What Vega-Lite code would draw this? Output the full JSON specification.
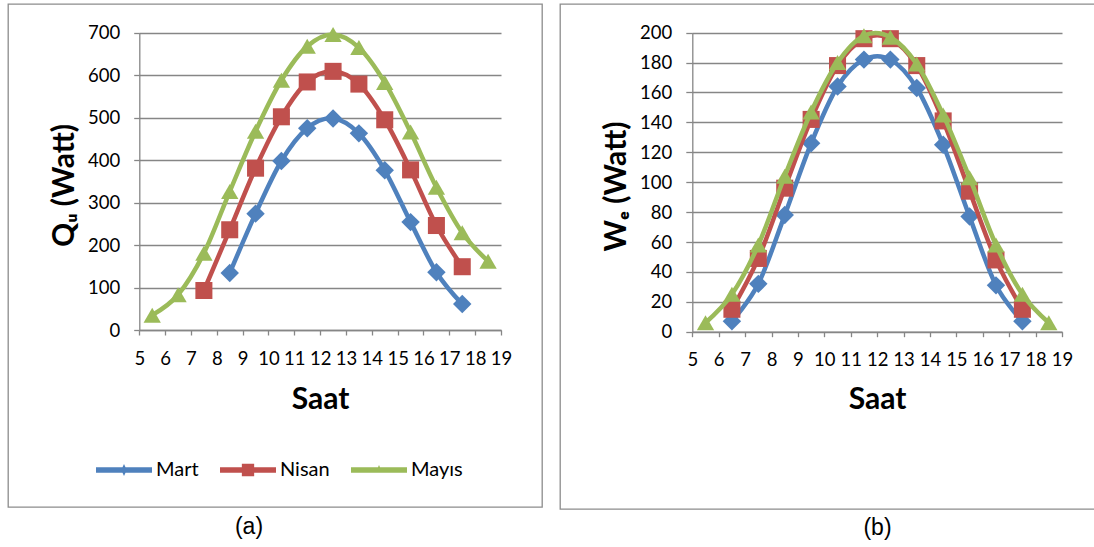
{
  "$schema": "https://vega.github.io/schema/vega-lite/v6.json",
  "background": "white",
  "padding": {"left": 7, "top": 3, "right": 0, "bottom": 0},
  "spacing": 16,
  "config": {
    "font": "Lato",
    "view": {"stroke": "#8c8c8c", "strokeWidth": 1.3},
    "axis": {"labelColor": "black", "titleColor": "black", "domainColor": "#868686", "tickColor": "#868686", "domainWidth": 1.3, "tickWidth": 1.3, "gridColor": "#868686", "gridWidth": 1.3, "labelFont": "Lato", "labelFontSize": 18.5, "titleFont": "Lato", "titleFontSize": 30, "titleFontWeight": "bold", "labelFlush": false, "labelOverlap": false},
    "legend": {"labelColor": "black", "labelFont": "Lato", "labelFontSize": 20}
  },
  "datasets": {
    "qu": [
      {"seri": "Mart", "saat": 8.5, "deger": 134}, {"seri": "Mart", "saat": 9.5, "deger": 274}, {"seri": "Mart", "saat": 10.5, "deger": 398}, {"seri": "Mart", "saat": 11.5, "deger": 475}, {"seri": "Mart", "saat": 12.5, "deger": 498}, {"seri": "Mart", "saat": 13.5, "deger": 463}, {"seri": "Mart", "saat": 14.5, "deger": 376}, {"seri": "Mart", "saat": 15.5, "deger": 254}, {"seri": "Mart", "saat": 16.5, "deger": 136}, {"seri": "Mart", "saat": 17.5, "deger": 61},
      {"seri": "Nisan", "saat": 7.5, "deger": 93}, {"seri": "Nisan", "saat": 8.5, "deger": 236}, {"seri": "Nisan", "saat": 9.5, "deger": 381}, {"seri": "Nisan", "saat": 10.5, "deger": 502}, {"seri": "Nisan", "saat": 11.5, "deger": 584}, {"seri": "Nisan", "saat": 12.5, "deger": 609}, {"seri": "Nisan", "saat": 13.5, "deger": 579}, {"seri": "Nisan", "saat": 14.5, "deger": 495}, {"seri": "Nisan", "saat": 15.5, "deger": 377}, {"seri": "Nisan", "saat": 16.5, "deger": 246}, {"seri": "Nisan", "saat": 17.5, "deger": 149},
      {"seri": "Mayıs", "saat": 5.5, "deger": 35}, {"seri": "Mayıs", "saat": 6.5, "deger": 83}, {"seri": "Mayıs", "saat": 7.5, "deger": 181}, {"seri": "Mayıs", "saat": 8.5, "deger": 326}, {"seri": "Mayıs", "saat": 9.5, "deger": 468}, {"seri": "Mayıs", "saat": 10.5, "deger": 588}, {"seri": "Mayıs", "saat": 11.5, "deger": 668}, {"seri": "Mayıs", "saat": 12.5, "deger": 696}, {"seri": "Mayıs", "saat": 13.5, "deger": 665}, {"seri": "Mayıs", "saat": 14.5, "deger": 583}, {"seri": "Mayıs", "saat": 15.5, "deger": 466}, {"seri": "Mayıs", "saat": 16.5, "deger": 336}, {"seri": "Mayıs", "saat": 17.5, "deger": 229}, {"seri": "Mayıs", "saat": 18.5, "deger": 162}
    ],
    "we": [
      {"seri": "Mart", "saat": 6.5, "deger": 7}, {"seri": "Mart", "saat": 7.5, "deger": 32}, {"seri": "Mart", "saat": 8.5, "deger": 78}, {"seri": "Mart", "saat": 9.5, "deger": 126}, {"seri": "Mart", "saat": 10.5, "deger": 164}, {"seri": "Mart", "saat": 11.5, "deger": 182}, {"seri": "Mart", "saat": 12.5, "deger": 182}, {"seri": "Mart", "saat": 13.5, "deger": 163}, {"seri": "Mart", "saat": 14.5, "deger": 125}, {"seri": "Mart", "saat": 15.5, "deger": 77}, {"seri": "Mart", "saat": 16.5, "deger": 31}, {"seri": "Mart", "saat": 17.5, "deger": 7},
      {"seri": "Nisan", "saat": 6.5, "deger": 15}, {"seri": "Nisan", "saat": 7.5, "deger": 49}, {"seri": "Nisan", "saat": 8.5, "deger": 96}, {"seri": "Nisan", "saat": 9.5, "deger": 142}, {"seri": "Nisan", "saat": 10.5, "deger": 178}, {"seri": "Nisan", "saat": 11.5, "deger": 196}, {"seri": "Nisan", "saat": 12.5, "deger": 196}, {"seri": "Nisan", "saat": 13.5, "deger": 178}, {"seri": "Nisan", "saat": 14.5, "deger": 141}, {"seri": "Nisan", "saat": 15.5, "deger": 94}, {"seri": "Nisan", "saat": 16.5, "deger": 48}, {"seri": "Nisan", "saat": 17.5, "deger": 15},
      {"seri": "Mayıs", "saat": 5.5, "deger": 6}, {"seri": "Mayıs", "saat": 6.5, "deger": 25}, {"seri": "Mayıs", "saat": 7.5, "deger": 58}, {"seri": "Mayıs", "saat": 8.5, "deger": 104}, {"seri": "Mayıs", "saat": 9.5, "deger": 147}, {"seri": "Mayıs", "saat": 10.5, "deger": 180}, {"seri": "Mayıs", "saat": 11.5, "deger": 198}, {"seri": "Mayıs", "saat": 12.5, "deger": 197}, {"seri": "Mayıs", "saat": 13.5, "deger": 179}, {"seri": "Mayıs", "saat": 14.5, "deger": 145}, {"seri": "Mayıs", "saat": 15.5, "deger": 103}, {"seri": "Mayıs", "saat": 16.5, "deger": 58}, {"seri": "Mayıs", "saat": 17.5, "deger": 25}, {"seri": "Mayıs", "saat": 18.5, "deger": 6}
    ]
  },
  "hconcat": [
    {
      "width": 534,
      "height": 503,
      "data": {"name": "qu"},
      "title": {"text": "(a)", "orient": "bottom", "anchor": "middle", "font": "Liberation Sans", "fontSize": 23, "fontWeight": "normal", "color": "black", "dx": -26, "offset": 9},
      "encoding": {
        "x": {"field": "saat", "type": "quantitative", "scale": {"domain": [5, 19], "range": [131.3, 493], "nice": false, "zero": false},
          "axis": {"orient": "bottom", "offset": -177, "values": [5, 6, 7, 8, 9, 10, 11, 12, 13, 14, 15, 16, 17, 18, 19], "grid": false, "tickSize": 5, "labelPadding": 14, "title": "Saat", "titleX": 312, "titleY": 69, "titleBaseline": "middle", "titleAlign": "center"}},
        "y": {"field": "deger", "type": "quantitative", "scale": {"domain": [0, 700], "range": [326, 28.7], "nice": false, "zero": true},
          "axis": {"orient": "left", "offset": -131.3, "values": [0, 100, 200, 300, 400, 500, 600, 700], "grid": true, "tickSize": 5.6, "labelPadding": 14, "title": "Qᵤ (Watt)", "titleX": -75, "titleY": 181, "titleAngle": -90, "titleBaseline": "middle", "titleAlign": "center"}}
      },
      "layer": [
        {"transform": [{"filter": "datum.seri === 'Mart'"}], "mark": {"type": "line", "color": "#4F81BD", "strokeWidth": 4.5, "interpolate": "cardinal"}},
        {"transform": [{"filter": "datum.seri === 'Mart'"}], "mark": {"type": "point", "shape": "diamond", "filled": true, "opacity": 1, "color": "#4F81BD", "size": 340}},
        {"transform": [{"filter": "datum.seri === 'Nisan'"}], "mark": {"type": "line", "color": "#C0504D", "strokeWidth": 4.5, "interpolate": "cardinal"}},
        {"transform": [{"filter": "datum.seri === 'Nisan'"}], "mark": {"type": "point", "shape": "square", "filled": true, "opacity": 1, "color": "#C0504D", "size": 290}},
        {"transform": [{"filter": "datum.seri === 'Mayıs'"}], "mark": {"type": "line", "color": "#9BBB59", "strokeWidth": 4.5, "interpolate": "cardinal"}},
        {"transform": [{"filter": "datum.seri === 'Mayıs'"}], "mark": {"type": "point", "shape": "triangle-up", "filled": true, "opacity": 1, "color": "#9BBB59", "size": 300}},
        {"transform": [{"filter": "false"}], "mark": {"type": "point", "filled": true, "opacity": 1},
          "encoding": {
            "color": {"field": "seri", "type": "nominal", "scale": {"domain": ["Mart", "Nisan", "Mayıs"], "range": ["#4F81BD", "#C0504D", "#9BBB59"]},
              "legend": {"orient": "none", "legendX": 88, "legendY": 438, "direction": "horizontal", "columns": 3, "title": null, "symbolSize": 3136, "labelOffset": 4, "columnPadding": 21, "symbolStrokeWidth": 0, "symbolOpacity": 1}},
            "shape": {"field": "seri", "type": "nominal", "scale": {"domain": ["Mart", "Nisan", "Mayıs"], "range": ["M-1,-0.1L1,-0.1L1,0.1L-1,0.1Z M0,-0.21L0.1,0L0,0.21L-0.1,0Z", "M-1,-0.1L1,-0.1L1,0.1L-1,0.1Z M-0.22,-0.22L0.22,-0.22L0.22,0.22L-0.22,0.22Z", "M-1,-0.1L1,-0.1L1,0.1L-1,0.1Z M0,-0.18L0.12,0.1L-0.12,0.1Z"]},
              "legend": {"orient": "none", "legendX": 88, "legendY": 438, "direction": "horizontal", "columns": 3, "title": null, "symbolSize": 3136, "labelOffset": 4, "columnPadding": 21, "symbolStrokeWidth": 0, "symbolOpacity": 1}}
          }
        }
      ]
    },
    {
      "width": 541,
      "height": 505,
      "data": {"name": "we"},
      "title": {"text": "(b)", "orient": "bottom", "anchor": "middle", "font": "Liberation Sans", "fontSize": 23, "fontWeight": "normal", "color": "black", "dx": 47, "offset": 8},
      "encoding": {
        "x": {"field": "saat", "type": "quantitative", "scale": {"domain": [5, 19], "range": [132.3, 502], "nice": false, "zero": false},
          "axis": {"orient": "bottom", "offset": -177.3, "values": [5, 6, 7, 8, 9, 10, 11, 12, 13, 14, 15, 16, 17, 18, 19], "grid": false, "tickSize": 5, "labelPadding": 14, "title": "Saat", "titleX": 317, "titleY": 68, "titleBaseline": "middle", "titleAlign": "center"}},
        "y": {"field": "deger", "type": "quantitative", "scale": {"domain": [0, 200], "range": [327.7, 28.7], "nice": false, "zero": true},
          "axis": {"orient": "left", "offset": -132.3, "values": [0, 20, 40, 60, 80, 100, 120, 140, 160, 180, 200], "grid": true, "tickSize": 6.5, "labelPadding": 14, "title": "Wₑ (Watt)", "titleX": -76, "titleY": 182, "titleAngle": -90, "titleBaseline": "middle", "titleAlign": "center"}}
      },
      "layer": [
        {"transform": [{"filter": "datum.seri === 'Mart'"}], "mark": {"type": "line", "color": "#4F81BD", "strokeWidth": 4.5, "interpolate": "cardinal"}},
        {"transform": [{"filter": "datum.seri === 'Mart'"}], "mark": {"type": "point", "shape": "diamond", "filled": true, "opacity": 1, "color": "#4F81BD", "size": 340}},
        {"transform": [{"filter": "datum.seri === 'Nisan'"}], "mark": {"type": "line", "color": "#C0504D", "strokeWidth": 4.5, "interpolate": "cardinal"}},
        {"transform": [{"filter": "datum.seri === 'Nisan'"}], "mark": {"type": "point", "shape": "square", "filled": true, "opacity": 1, "color": "#C0504D", "size": 290}},
        {"transform": [{"filter": "datum.seri === 'Mayıs'"}], "mark": {"type": "line", "color": "#9BBB59", "strokeWidth": 4.5, "interpolate": "cardinal"}},
        {"transform": [{"filter": "datum.seri === 'Mayıs'"}], "mark": {"type": "point", "shape": "triangle-up", "filled": true, "opacity": 1, "color": "#9BBB59", "size": 300}},
        {"transform": [{"filter": "false"}], "mark": {"type": "point", "filled": true, "opacity": 1},
          "encoding": {
            "color": {"field": "seri", "type": "nominal", "scale": {"domain": ["Mart", "Nisan", "Mayıs"], "range": ["#4F81BD", "#C0504D", "#9BBB59"]},
              "legend": {"orient": "none", "legendX": 94, "legendY": 441, "direction": "horizontal", "columns": 3, "title": null, "symbolSize": 3136, "labelOffset": 4, "columnPadding": 21, "symbolStrokeWidth": 0, "symbolOpacity": 1}},
            "shape": {"field": "seri", "type": "nominal", "scale": {"domain": ["Mart", "Nisan", "Mayıs"], "range": ["M-1,-0.1L1,-0.1L1,0.1L-1,0.1Z M0,-0.21L0.1,0L0,0.21L-0.1,0Z", "M-1,-0.1L1,-0.1L1,0.1L-1,0.1Z M-0.22,-0.22L0.22,-0.22L0.22,0.22L-0.22,0.22Z", "M-1,-0.1L1,-0.1L1,0.1L-1,0.1Z M0,-0.18L0.12,0.1L-0.12,0.1Z"]},
              "legend": {"orient": "none", "legendX": 94, "legendY": 441, "direction": "horizontal", "columns": 3, "title": null, "symbolSize": 3136, "labelOffset": 4, "columnPadding": 21, "symbolStrokeWidth": 0, "symbolOpacity": 1}}
          }
        }
      ]
    }
  ]
}
